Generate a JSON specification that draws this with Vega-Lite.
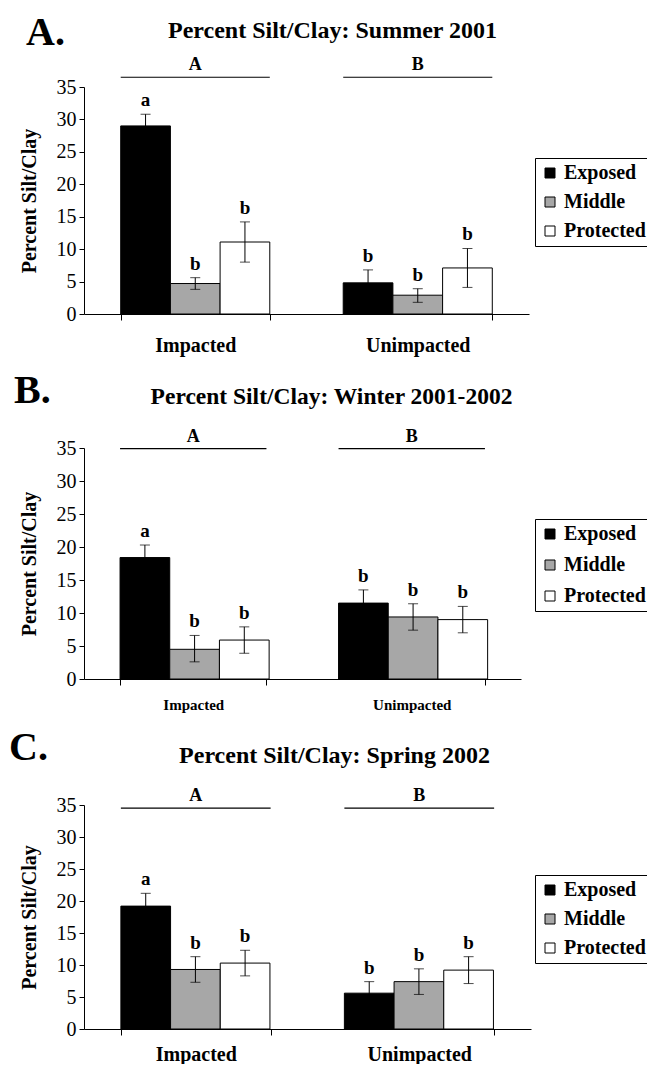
{
  "$schema": "https://vega.github.io/schema/vega-lite/v6.json",
  "background": "white",
  "padding": {"left": 9, "top": 13, "right": 0, "bottom": 0},
  "config": {
    "font": "Liberation Serif",
    "view": {"stroke": null},
    "axis": {"domainColor": "black", "tickColor": "black", "labelColor": "black", "titleColor": "black", "grid": false, "labelFont": "Liberation Serif", "titleFont": "Liberation Serif"},
    "legend": {"labelFont": "Liberation Serif"},
    "title": {"font": "Liberation Serif", "color": "black"},
    "text": {"font": "Liberation Serif", "color": "black"}
  },
  "datasets": {
    "bars": [
      {"Season": "Summer 2001", "Site": "Impacted", "Position": "Exposed", "Mean": 29.0, "Low": 27.2, "High": 30.8, "Letter": "a"},
      {"Season": "Summer 2001", "Site": "Impacted", "Position": "Middle", "Mean": 4.7, "Low": 3.8, "High": 5.6, "Letter": "b"},
      {"Season": "Summer 2001", "Site": "Impacted", "Position": "Protected", "Mean": 11.1, "Low": 8.0, "High": 14.2, "Letter": "b"},
      {"Season": "Summer 2001", "Site": "Unimpacted", "Position": "Exposed", "Mean": 4.8, "Low": 2.8, "High": 6.8, "Letter": "b"},
      {"Season": "Summer 2001", "Site": "Unimpacted", "Position": "Middle", "Mean": 2.9, "Low": 1.8, "High": 3.9, "Letter": "b"},
      {"Season": "Summer 2001", "Site": "Unimpacted", "Position": "Protected", "Mean": 7.1, "Low": 4.1, "High": 10.1, "Letter": "b"},
      {"Season": "Winter 2001-2002", "Site": "Impacted", "Position": "Exposed", "Mean": 18.4, "Low": 16.4, "High": 20.3, "Letter": "a"},
      {"Season": "Winter 2001-2002", "Site": "Impacted", "Position": "Middle", "Mean": 4.5, "Low": 2.6, "High": 6.6, "Letter": "b"},
      {"Season": "Winter 2001-2002", "Site": "Impacted", "Position": "Protected", "Mean": 5.9, "Low": 3.9, "High": 7.9, "Letter": "b"},
      {"Season": "Winter 2001-2002", "Site": "Unimpacted", "Position": "Exposed", "Mean": 11.5, "Low": 9.5, "High": 13.5, "Letter": "b"},
      {"Season": "Winter 2001-2002", "Site": "Unimpacted", "Position": "Middle", "Mean": 9.4, "Low": 7.4, "High": 11.4, "Letter": "b"},
      {"Season": "Winter 2001-2002", "Site": "Unimpacted", "Position": "Protected", "Mean": 9.0, "Low": 7.0, "High": 11.0, "Letter": "b"},
      {"Season": "Spring 2002", "Site": "Impacted", "Position": "Exposed", "Mean": 19.2, "Low": 17.2, "High": 21.2, "Letter": "a"},
      {"Season": "Spring 2002", "Site": "Impacted", "Position": "Middle", "Mean": 9.3, "Low": 7.3, "High": 11.3, "Letter": "b"},
      {"Season": "Spring 2002", "Site": "Impacted", "Position": "Protected", "Mean": 10.3, "Low": 8.3, "High": 12.3, "Letter": "b"},
      {"Season": "Spring 2002", "Site": "Unimpacted", "Position": "Exposed", "Mean": 5.6, "Low": 3.8, "High": 7.4, "Letter": "b"},
      {"Season": "Spring 2002", "Site": "Unimpacted", "Position": "Middle", "Mean": 7.4, "Low": 5.4, "High": 9.4, "Letter": "b"},
      {"Season": "Spring 2002", "Site": "Unimpacted", "Position": "Protected", "Mean": 9.2, "Low": 7.1, "High": 11.3, "Letter": "b"}
    ],
    "groups": [
      {"Season": "Summer 2001", "Site": "Impacted", "Group": "A"},
      {"Season": "Summer 2001", "Site": "Unimpacted", "Group": "B"},
      {"Season": "Winter 2001-2002", "Site": "Impacted", "Group": "A"},
      {"Season": "Winter 2001-2002", "Site": "Unimpacted", "Group": "B"},
      {"Season": "Spring 2002", "Site": "Impacted", "Group": "A"},
      {"Season": "Spring 2002", "Site": "Unimpacted", "Group": "B"}
    ]
  },
  "spacing": 16,
  "resolve": {"scale": {"fill": "independent"}, "legend": {"fill": "independent"}},
  "vconcat": [
    {
      "title": {"text": "A.", "anchor": "start", "fontSize": 40, "fontWeight": "bold", "offset": -34, "dx": 7},
      "resolve": {"scale": {"fill": "independent"}, "legend": {"fill": "independent"}},
      "vconcat": [
        {
          "width": 445, "height": 227,
          "title": {"text": "Percent Silt/Clay: Summer 2001", "fontSize": 24, "fontWeight": "bold", "anchor": "middle", "frame": "group", "dx": 26, "offset": 13},
          "encoding": {
            "x": {"field": "Site", "type": "nominal", "title": null, "scale": {"domain": ["Impacted", "Unimpacted"], "paddingInner": 0.33, "paddingOuter": 0.165},
                  "axis": {"labelAngle": 0, "labelFontSize": 20, "labelFontWeight": "bold", "tickBand": "extent", "tickSize": 6, "labelPadding": 15}}
          },
          "layer": [
            {
              "data": {"name": "bars"}, "transform": [{"filter": "datum.Season == 'Summer 2001'"}],
              "mark": {"type": "bar", "stroke": "black", "strokeWidth": 1},
              "encoding": {
                "xOffset": {"field": "Position", "type": "nominal", "scale": {"domain": ["Exposed", "Middle", "Protected"], "paddingInner": 0, "paddingOuter": 0}},
                "y": {"field": "Mean", "type": "quantitative", "title": "Percent Silt/Clay", "scale": {"domain": [0, 35]},
                      "axis": {"values": [0, 5, 10, 15, 20, 25, 30, 35], "tickCount": 8, "titleFontSize": 20, "titleFontWeight": "bold", "labelFontSize": 20, "tickSize": 5, "labelPadding": 3, "titlePadding": 17}},
                "fill": {"field": "Position", "type": "nominal", "scale": {"domain": ["Exposed", "Middle", "Protected"], "range": ["black", "#a7a7a7", "white"]},
                         "legend": {"title": null, "orient": "none", "legendX": 451, "legendY": 71, "strokeColor": "black", "padding": 5, "symbolType": "square", "symbolSize": 100, "symbolStrokeColor": "black", "symbolStrokeWidth": 1, "labelFontSize": 20, "labelFontWeight": "bold", "labelColor": "black", "labelOffset": 4, "rowPadding": 9}}
              }
            },
            {
              "data": {"name": "bars"}, "transform": [{"filter": "datum.Season == 'Summer 2001'"}],
              "mark": {"type": "rule", "color": "black", "strokeWidth": 1},
              "encoding": {
                "xOffset": {"field": "Position", "type": "nominal"},
                "y": {"field": "Low", "type": "quantitative", "title": "Percent Silt/Clay", "axis": {"values": [0, 5, 10, 15, 20, 25, 30, 35]}},
                "y2": {"field": "High"}
              }
            },
            {
              "data": {"name": "bars"}, "transform": [{"filter": "datum.Season == 'Summer 2001'"}],
              "mark": {"type": "tick", "orient": "horizontal", "color": "black", "size": 10, "thickness": 1},
              "encoding": {
                "xOffset": {"field": "Position", "type": "nominal"},
                "y": {"field": "High", "type": "quantitative", "title": "Percent Silt/Clay", "axis": {"values": [0, 5, 10, 15, 20, 25, 30, 35]}}
              }
            },
            {
              "data": {"name": "bars"}, "transform": [{"filter": "datum.Season == 'Summer 2001'"}],
              "mark": {"type": "tick", "orient": "horizontal", "color": "black", "size": 10, "thickness": 1},
              "encoding": {
                "xOffset": {"field": "Position", "type": "nominal"},
                "y": {"field": "Low", "type": "quantitative", "title": "Percent Silt/Clay", "axis": {"values": [0, 5, 10, 15, 20, 25, 30, 35]}}
              }
            },
            {
              "data": {"name": "bars"}, "transform": [{"filter": "datum.Season == 'Summer 2001'"}],
              "mark": {"type": "text", "baseline": "bottom", "dy": -4, "fontSize": 19, "fontWeight": "bold"},
              "encoding": {
                "xOffset": {"field": "Position", "type": "nominal"},
                "y": {"field": "High", "type": "quantitative", "title": "Percent Silt/Clay", "axis": {"values": [0, 5, 10, 15, 20, 25, 30, 35]}},
                "text": {"field": "Letter"}
              }
            },
            {
              "data": {"name": "groups"}, "transform": [{"filter": "datum.Season == 'Summer 2001'"}],
              "mark": {"type": "rule", "color": "black", "strokeWidth": 1.2},
              "encoding": {
                "x": {"field": "Site", "type": "nominal", "bandPosition": 0},
                "x2": {"field": "Site", "bandPosition": 1},
                "y": {"datum": 36.5}
              }
            },
            {
              "data": {"name": "groups"}, "transform": [{"filter": "datum.Season == 'Summer 2001'"}],
              "mark": {"type": "text", "baseline": "bottom", "dy": -3, "fontSize": 18, "fontWeight": "bold"},
              "encoding": {
                "y": {"datum": 36.5},
                "text": {"field": "Group"}
              }
            }
          ]
        }
      ]
    },
    {
      "title": {"text": "B.", "anchor": "start", "fontSize": 40, "fontWeight": "bold", "offset": -26, "dx": -5},
      "resolve": {"scale": {"fill": "independent"}, "legend": {"fill": "independent"}},
      "vconcat": [
        {
          "width": 437, "height": 231,
          "title": {"text": "Percent Silt/Clay: Winter 2001-2002", "fontSize": 23.5, "fontWeight": "bold", "anchor": "middle", "frame": "group", "dx": 29, "offset": 19},
          "encoding": {
            "x": {"field": "Site", "type": "nominal", "title": null, "scale": {"domain": ["Impacted", "Unimpacted"], "paddingInner": 0.33, "paddingOuter": 0.165},
                  "axis": {"labelAngle": 0, "labelFontSize": 15, "labelFontWeight": "bold", "tickBand": "extent", "tickSize": 6, "labelPadding": 12}}
          },
          "layer": [
            {
              "data": {"name": "bars"}, "transform": [{"filter": "datum.Season == 'Winter 2001-2002'"}],
              "mark": {"type": "bar", "stroke": "black", "strokeWidth": 1},
              "encoding": {
                "xOffset": {"field": "Position", "type": "nominal", "scale": {"domain": ["Exposed", "Middle", "Protected"], "paddingInner": 0, "paddingOuter": 0}},
                "y": {"field": "Mean", "type": "quantitative", "title": "Percent Silt/Clay", "scale": {"domain": [0, 35]},
                      "axis": {"values": [0, 5, 10, 15, 20, 25, 30, 35], "tickCount": 8, "titleFontSize": 20, "titleFontWeight": "bold", "labelFontSize": 20, "tickSize": 5, "labelPadding": 3, "titlePadding": 17}},
                "fill": {"field": "Position", "type": "nominal", "scale": {"domain": ["Exposed", "Middle", "Protected"], "range": ["black", "#a7a7a7", "white"]},
                         "legend": {"title": null, "orient": "none", "legendX": 451, "legendY": 71, "strokeColor": "black", "padding": 5, "symbolType": "square", "symbolSize": 100, "symbolStrokeColor": "black", "symbolStrokeWidth": 1, "labelFontSize": 20, "labelFontWeight": "bold", "labelColor": "black", "labelOffset": 4, "rowPadding": 11}}
              }
            },
            {
              "data": {"name": "bars"}, "transform": [{"filter": "datum.Season == 'Winter 2001-2002'"}],
              "mark": {"type": "rule", "color": "black", "strokeWidth": 1},
              "encoding": {
                "xOffset": {"field": "Position", "type": "nominal"},
                "y": {"field": "Low", "type": "quantitative", "title": "Percent Silt/Clay", "axis": {"values": [0, 5, 10, 15, 20, 25, 30, 35]}},
                "y2": {"field": "High"}
              }
            },
            {
              "data": {"name": "bars"}, "transform": [{"filter": "datum.Season == 'Winter 2001-2002'"}],
              "mark": {"type": "tick", "orient": "horizontal", "color": "black", "size": 10, "thickness": 1},
              "encoding": {
                "xOffset": {"field": "Position", "type": "nominal"},
                "y": {"field": "High", "type": "quantitative", "title": "Percent Silt/Clay", "axis": {"values": [0, 5, 10, 15, 20, 25, 30, 35]}}
              }
            },
            {
              "data": {"name": "bars"}, "transform": [{"filter": "datum.Season == 'Winter 2001-2002'"}],
              "mark": {"type": "tick", "orient": "horizontal", "color": "black", "size": 10, "thickness": 1},
              "encoding": {
                "xOffset": {"field": "Position", "type": "nominal"},
                "y": {"field": "Low", "type": "quantitative", "title": "Percent Silt/Clay", "axis": {"values": [0, 5, 10, 15, 20, 25, 30, 35]}}
              }
            },
            {
              "data": {"name": "bars"}, "transform": [{"filter": "datum.Season == 'Winter 2001-2002'"}],
              "mark": {"type": "text", "baseline": "bottom", "dy": -4, "fontSize": 19, "fontWeight": "bold"},
              "encoding": {
                "xOffset": {"field": "Position", "type": "nominal"},
                "y": {"field": "High", "type": "quantitative", "title": "Percent Silt/Clay", "axis": {"values": [0, 5, 10, 15, 20, 25, 30, 35]}},
                "text": {"field": "Letter"}
              }
            },
            {
              "data": {"name": "groups"}, "transform": [{"filter": "datum.Season == 'Winter 2001-2002'"}],
              "mark": {"type": "rule", "color": "black", "strokeWidth": 1.2},
              "encoding": {
                "x": {"field": "Site", "type": "nominal", "bandPosition": 0},
                "x2": {"field": "Site", "bandPosition": 1},
                "y": {"datum": 34.9}
              }
            },
            {
              "data": {"name": "groups"}, "transform": [{"filter": "datum.Season == 'Winter 2001-2002'"}],
              "mark": {"type": "text", "baseline": "bottom", "dy": -3, "fontSize": 18, "fontWeight": "bold"},
              "encoding": {
                "y": {"datum": 34.9},
                "text": {"field": "Group"}
              }
            }
          ]
        }
      ]
    },
    {
      "title": {"text": "C.", "anchor": "start", "fontSize": 40, "fontWeight": "bold", "offset": -24, "dx": -10},
      "resolve": {"scale": {"fill": "independent"}, "legend": {"fill": "independent"}},
      "vconcat": [
        {
          "width": 447, "height": 224,
          "title": {"text": "Percent Silt/Clay: Spring 2002", "fontSize": 24, "fontWeight": "bold", "anchor": "middle", "frame": "group", "dx": 27, "offset": 19},
          "encoding": {
            "x": {"field": "Site", "type": "nominal", "title": null, "scale": {"domain": ["Impacted", "Unimpacted"], "paddingInner": 0.33, "paddingOuter": 0.165},
                  "axis": {"labelAngle": 0, "labelFontSize": 20, "labelFontWeight": "bold", "tickBand": "extent", "tickSize": 6, "labelPadding": 9}}
          },
          "layer": [
            {
              "data": {"name": "bars"}, "transform": [{"filter": "datum.Season == 'Spring 2002'"}],
              "mark": {"type": "bar", "stroke": "black", "strokeWidth": 1},
              "encoding": {
                "xOffset": {"field": "Position", "type": "nominal", "scale": {"domain": ["Exposed", "Middle", "Protected"], "paddingInner": 0, "paddingOuter": 0}},
                "y": {"field": "Mean", "type": "quantitative", "title": "Percent Silt/Clay", "scale": {"domain": [0, 35]},
                      "axis": {"values": [0, 5, 10, 15, 20, 25, 30, 35], "tickCount": 8, "titleFontSize": 20, "titleFontWeight": "bold", "labelFontSize": 20, "tickSize": 5, "labelPadding": 3, "titlePadding": 17}},
                "fill": {"field": "Position", "type": "nominal", "scale": {"domain": ["Exposed", "Middle", "Protected"], "range": ["black", "#a7a7a7", "white"]},
                         "legend": {"title": null, "orient": "none", "legendX": 451, "legendY": 70, "strokeColor": "black", "padding": 5, "symbolType": "square", "symbolSize": 100, "symbolStrokeColor": "black", "symbolStrokeWidth": 1, "labelFontSize": 20, "labelFontWeight": "bold", "labelColor": "black", "labelOffset": 4, "rowPadding": 9}}
              }
            },
            {
              "data": {"name": "bars"}, "transform": [{"filter": "datum.Season == 'Spring 2002'"}],
              "mark": {"type": "rule", "color": "black", "strokeWidth": 1},
              "encoding": {
                "xOffset": {"field": "Position", "type": "nominal"},
                "y": {"field": "Low", "type": "quantitative", "title": "Percent Silt/Clay", "axis": {"values": [0, 5, 10, 15, 20, 25, 30, 35]}},
                "y2": {"field": "High"}
              }
            },
            {
              "data": {"name": "bars"}, "transform": [{"filter": "datum.Season == 'Spring 2002'"}],
              "mark": {"type": "tick", "orient": "horizontal", "color": "black", "size": 10, "thickness": 1},
              "encoding": {
                "xOffset": {"field": "Position", "type": "nominal"},
                "y": {"field": "High", "type": "quantitative", "title": "Percent Silt/Clay", "axis": {"values": [0, 5, 10, 15, 20, 25, 30, 35]}}
              }
            },
            {
              "data": {"name": "bars"}, "transform": [{"filter": "datum.Season == 'Spring 2002'"}],
              "mark": {"type": "tick", "orient": "horizontal", "color": "black", "size": 10, "thickness": 1},
              "encoding": {
                "xOffset": {"field": "Position", "type": "nominal"},
                "y": {"field": "Low", "type": "quantitative", "title": "Percent Silt/Clay", "axis": {"values": [0, 5, 10, 15, 20, 25, 30, 35]}}
              }
            },
            {
              "data": {"name": "bars"}, "transform": [{"filter": "datum.Season == 'Spring 2002'"}],
              "mark": {"type": "text", "baseline": "bottom", "dy": -4, "fontSize": 19, "fontWeight": "bold"},
              "encoding": {
                "xOffset": {"field": "Position", "type": "nominal"},
                "y": {"field": "High", "type": "quantitative", "title": "Percent Silt/Clay", "axis": {"values": [0, 5, 10, 15, 20, 25, 30, 35]}},
                "text": {"field": "Letter"}
              }
            },
            {
              "data": {"name": "groups"}, "transform": [{"filter": "datum.Season == 'Spring 2002'"}],
              "mark": {"type": "rule", "color": "black", "strokeWidth": 1.2},
              "encoding": {
                "x": {"field": "Site", "type": "nominal", "bandPosition": 0},
                "x2": {"field": "Site", "bandPosition": 1},
                "y": {"datum": 34.5}
              }
            },
            {
              "data": {"name": "groups"}, "transform": [{"filter": "datum.Season == 'Spring 2002'"}],
              "mark": {"type": "text", "baseline": "bottom", "dy": -3, "fontSize": 18, "fontWeight": "bold"},
              "encoding": {
                "y": {"datum": 34.5},
                "text": {"field": "Group"}
              }
            }
          ]
        }
      ]
    }
  ]
}
